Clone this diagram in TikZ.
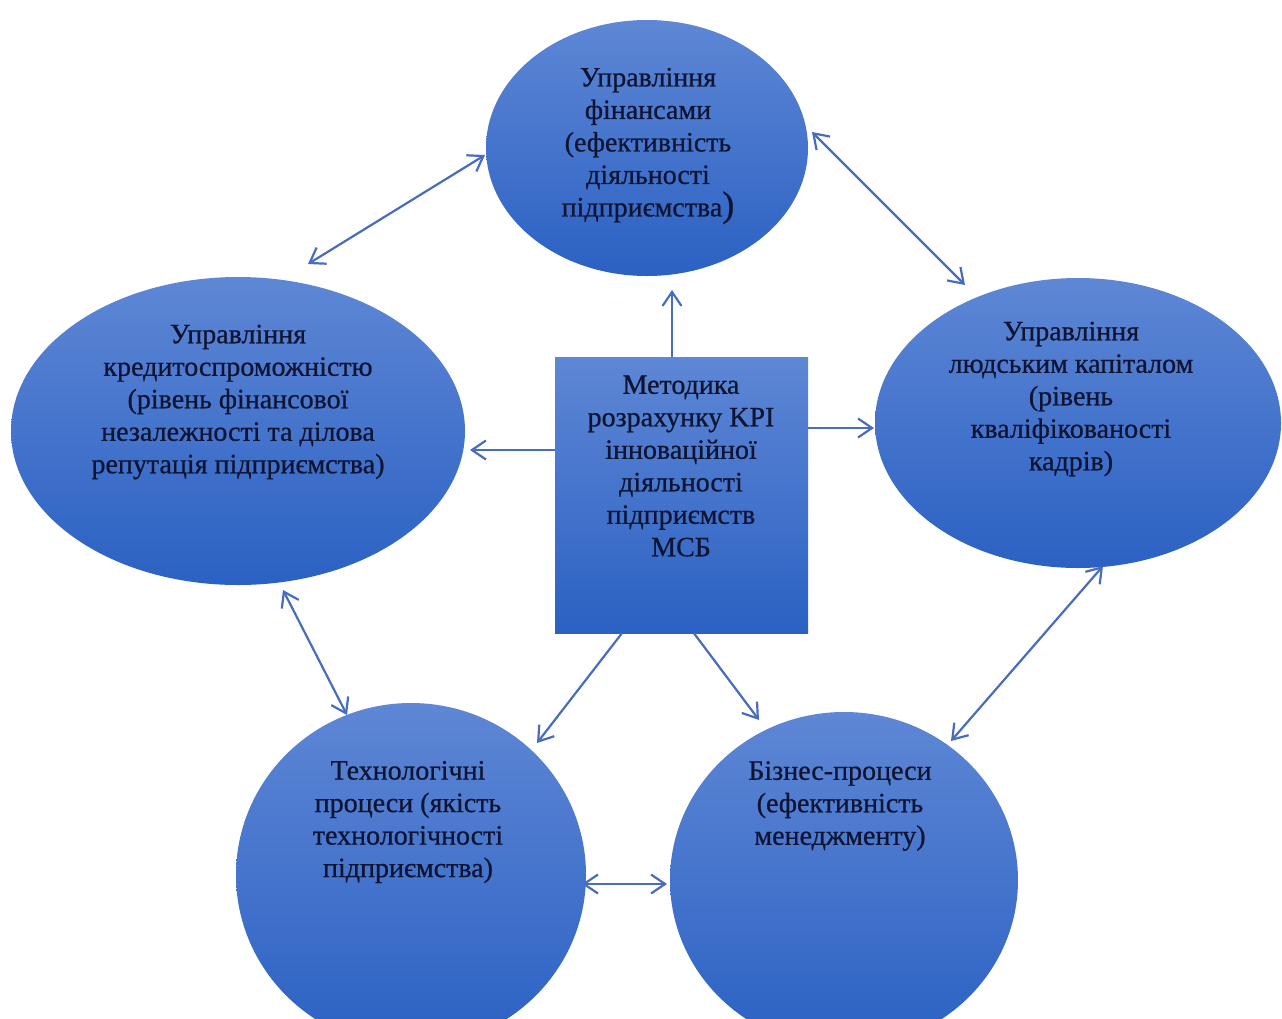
\documentclass[tikz,border=0pt]{standalone}
\usepackage{fontspec}
\setmainfont{Liberation Serif}
\newfontfamily\lblfont[FakeBold=0.7]{Liberation Serif}
\usetikzlibrary{arrows.meta,shapes.geometric,calc}
\definecolor{gtop}{RGB}{94,135,213}
\definecolor{gbot}{RGB}{43,97,195}
\definecolor{linkc}{RGB}{72,108,190}
\definecolor{txt}{RGB}{14,20,50}
\begin{document}
\begin{tikzpicture}[x=1pt,y=-1pt,
  >={Straight Barb[length=14pt,width=19pt]},
  blob/.style n args={2}{ellipse, draw=none, inner sep=0pt,
     minimum width=#1, minimum height=#2, top color=gtop, bottom color=gbot},
  boxnode/.style={rectangle, draw=none, inner sep=0pt,
     minimum width=253pt, minimum height=276pt, top color=gtop, bottom color=gbot},
  lbl/.style={text=txt, align=center, inner sep=0pt,
     font=\lblfont\fontsize{28}{32.5}\selectfont},
  link/.style={draw=linkc, line width=2.2pt}]
\fill[white] (0,0) rectangle (1282,1018);
\clip (0,0) rectangle (1282,1018);

% shapes
\node[blob={322pt}{256pt}] (T)  at (647,148) {};
\node[blob={454pt}{308pt}] (L)  at (238,431) {};
\node[blob={406pt}{290pt}] (R)  at (1078,423) {};
\node[boxnode] (B) at (681.5,495) {};
\node[blob={350pt}{344pt}] (BL) at (411,875) {};
\node[blob={348pt}{336pt}] (BR) at (844,880) {};

% texts
\node[lbl] (tT) at (648,146) {Управління\\фінансами\\(ефективність\\діяльності\\підприємства{\fontsize{36}{36}\selectfont)}};
\node[lbl] (tL) at (238,402) {Управління\\кредитоспроможністю\\(рівень фінансової\\незалежності та ділова\\репутація підприємства)};
\node[lbl] (tR) at (1071,399) {Управління\\людським капіталом\\(рівень\\кваліфікованості\\кадрів)};
\node[lbl] (tB) at (681,466) {Методика\\розрахунку KPI\\інноваційної\\діяльності\\підприємств\\МСБ};
\node[lbl] (tBL) at (408,822) {Технологічні\\процеси (якість\\технологічності\\підприємства)};
\node[lbl] (tBR) at (840,806) {Бізнес-процеси\\(ефективність\\менеджменту)};

% connector ends
\coordinate (cTLa) at (308,264);
\coordinate (cTLb) at (485,155);
\coordinate (cTRa) at (812,132);
\coordinate (cTRb) at (965,285);
\coordinate (cT)   at (672,290);
\coordinate (cL)   at (470,450);
\coordinate (cR)   at (874,428);
\coordinate (cBL)  at (537,743);
\coordinate (cBR)  at (759,720);
\coordinate (cLBa) at (283,590);
\coordinate (cLBb) at (347,715);
\coordinate (cRBa) at (1103,566);
\coordinate (cRBb) at (951,741);
\coordinate (cBBa) at (582,884);
\coordinate (cBBb) at (667,884);

% connectors
\draw[link,<->] (cTLa) -- (cTLb);
\draw[link,<->] (cTRa) -- (cTRb);
\draw[link,->] (B.north -| cT) -- (cT);
\draw[link,->] (B.west |- cL) -- (cL);
\draw[link,->] (B.east |- cR) -- (cR);
\draw[link,->] ($(B.south west)!0.265!(B.south east)$) -- (cBL);
\draw[link,->] ($(B.south west)!0.549!(B.south east)$) -- (cBR);
\draw[link,<->] (cLBa) -- (cLBb);
\draw[link,<->] (cRBa) -- (cRBb);
\draw[link,<->] (cBBa) -- (cBBb);
\end{tikzpicture}
\end{document}
